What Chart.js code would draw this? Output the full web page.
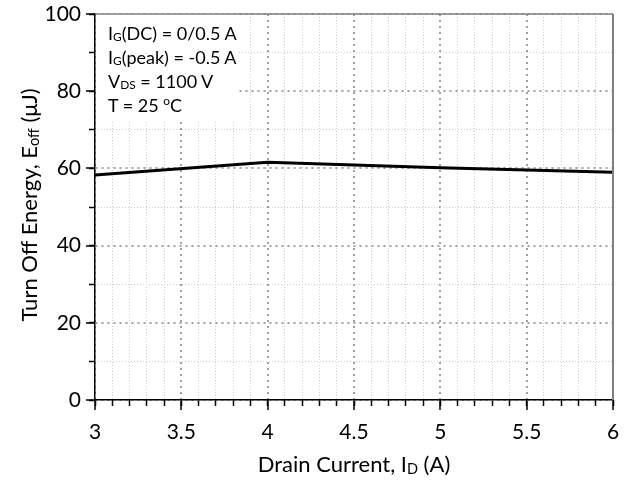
<!DOCTYPE html>
<html>
<head>
<meta charset="utf-8">
<script src="https://cdn.jsdelivr.net/npm/chart.js@4/dist/chart.umd.min.js"></script>
<style>
  body { margin: 0; background: #fff; }
  #wrap { position: relative; width: 631px; height: 480px; font-family: Lato, sans-serif; color: #000; }
  .sub { font-size: 0.66em; vertical-align: -0.12em; line-height: 0; }
  .sup { font-size: 0.66em; vertical-align: 0.55em; line-height: 0; }
  #note {
    position: absolute; left: 108px; top: 21px;
    font-size: 18px; line-height: 24px; white-space: nowrap;
  }
  #note div { height: 24px; }
  #xtitle {
    position: absolute; left: 204px; top: 454px; width: 300px; text-align: center;
    font-size: 22px; line-height: 20px; white-space: nowrap;
  }
  #ytitle {
    position: absolute; left: -121px; top: 195px; width: 300px; height: 20px; text-align: center;
    font-size: 22px; line-height: 20px; white-space: nowrap; transform: rotate(-90deg);
  }
</style>
</head>
<body>
<div id="wrap">
  <canvas id="eoff-chart" width="631" height="480"></canvas>
  <div id="note">
    <div>I<span class="sub">G</span>(DC) = 0/0.5 A</div>
    <div>I<span class="sub">G</span>(peak) = -0.5 A</div>
    <div>V<span class="sub">DS</span> = 1100 V</div>
    <div>T = 25 <span class="sup">o</span>C</div>
  </div>
  <div id="xtitle">Drain Current, I<span class="sub">D</span> (A)</div>
  <div id="ytitle">Turn Off Energy, E<span class="sub">off</span> (μJ)</div>
</div>
<script>
// data
const drainCurrent = [3, 4, 5, 6];
const turnOffEnergy = [58.3, 61.6, 60.2, 59.0];
const xMajorTicks = [3, 3.5, 4, 4.5, 5, 5.5, 6];
const yMajorTicks = [0, 20, 40, 60, 80, 100];

Chart.defaults.font.family = 'Lato';

function onStep(v, step) {
  let r = v / step;
  return Math.abs(r - Math.round(r)) < 1e-6;
}

// white patch behind the conditions text, gray frame on top and right
const framePlugin = {
  id: 'frame',
  beforeDatasetsDraw(chart) {
    const a = chart.chartArea;
    const ctx = chart.ctx;
    ctx.save();
    ctx.fillStyle = '#fff';
    ctx.fillRect(a.left + 1, a.top, 143, 122 - a.top);
    ctx.restore();
  },
  afterDraw(chart) {
    const a = chart.chartArea;
    const ctx = chart.ctx;
    ctx.save();
    ctx.strokeStyle = '#808080';
    ctx.lineWidth = 1.5;
    ctx.beginPath();
    ctx.moveTo(a.left, a.top);
    ctx.lineTo(a.right, a.top);
    ctx.stroke();
    ctx.lineWidth = 2;
    ctx.beginPath();
    ctx.moveTo(a.right, a.top);
    ctx.lineTo(a.right, a.bottom);
    ctx.stroke();
    ctx.restore();
  }
};

new Chart(document.getElementById('eoff-chart'), {
  type: 'scatter',
  data: {
    datasets: [{
      data: drainCurrent.map((x, i) => ({x: x, y: turnOffEnergy[i]})),
      showLine: true,
      borderColor: '#000',
      borderWidth: 3,
      pointRadius: 0,
      xAxisID: 'x',
      yAxisID: 'y'
    }]
  },
  options: {
    responsive: false,
    animation: false,
    layout: { padding: { top: 14, right: 18, left: 0, bottom: 0 } },
    plugins: { legend: { display: false }, tooltip: { enabled: false } },
    scales: {
      x: {
        type: 'linear', position: 'bottom', weight: 1,
        min: 3, max: 6,
        afterBuildTicks: s => { s.ticks = xMajorTicks.map(v => ({value: v})); },
        afterFit: s => { s.height = 80; },
        ticks: { color: '#000', font: { size: 21 }, padding: 10, maxRotation: 0,
                 callback: v => String(v) },
        grid: { color: '#a0a0a0', lineWidth: 2, tickLength: 10, tickColor: '#000', tickWidth: 1.5 },
        border: { color: '#000', width: 1.5, dash: [2, 4] }
      },
      xMinor: {
        type: 'linear', position: 'bottom', weight: 0,
        min: 3, max: 6,
        afterFit: s => { s.height = 0; },
        ticks: { display: false, stepSize: 0.1 },
        grid: {
          color: c => onStep(c.tick.value, 0.5) ? 'rgba(0,0,0,0)' : '#cccccc',
          lineWidth: 1, tickLength: 6, tickColor: '#000', tickWidth: 1.5
        },
        border: { display: false, dash: [1, 2] }
      },
      y: {
        type: 'linear', position: 'left', weight: 1,
        min: 0, max: 100,
        afterBuildTicks: s => { s.ticks = yMajorTicks.map(v => ({value: v})); },
        afterFit: s => { s.width = 95; s.paddingTop = 0; s.paddingBottom = 0; },
        ticks: { color: '#000', font: { size: 21 }, padding: 5 },
        grid: { color: '#a0a0a0', lineWidth: 2, tickLength: 9, tickColor: '#000', tickWidth: 1.5 },
        border: { color: '#000', width: 1.5, dash: [2, 4] }
      },
      yMinor: {
        type: 'linear', position: 'left', weight: 0,
        min: 0, max: 100,
        afterFit: s => { s.width = 0; s.paddingTop = 0; s.paddingBottom = 0; },
        ticks: { display: false, stepSize: 10 },
        grid: {
          color: c => onStep(c.tick.value, 20) ? 'rgba(0,0,0,0)' : '#cccccc',
          lineWidth: 1, tickLength: 6, tickColor: '#000', tickWidth: 1.5
        },
        border: { display: false, dash: [1, 2] }
      }
    }
  },
  plugins: [framePlugin]
});
</script>
</body>
</html>
